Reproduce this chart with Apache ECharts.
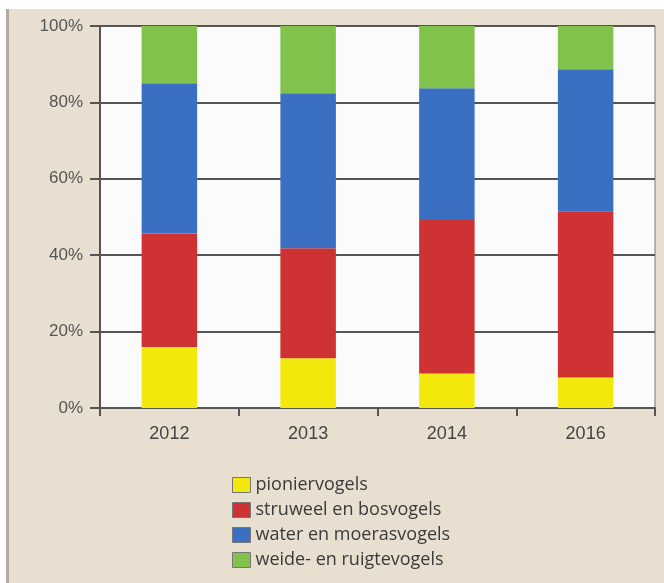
<!DOCTYPE html>
<html>
<head>
<meta charset="utf-8">
<script src="https://cdn.jsdelivr.net/npm/echarts@6/dist/echarts.min.js"></script>
<style>html,body{margin:0;padding:0;background:#fff;}#c{width:664px;height:583px;}</style>
</head>
<body>
<div id="c"></div>
<script>
var categories = ['2012', '2013', '2014', '2016'];
var pioniervogels = [16, 13, 9, 8];
var struweelBosvogels = [29.7, 28.8, 40.2, 43.4];
var waterMoerasvogels = [39.3, 40.6, 34.5, 37.3];
var weideRuigtevogels = [15, 17.6, 16.3, 11.3];
var yTicks = [0, 20, 40, 60, 80, 100];

var chart = echarts.init(document.getElementById('c'));
function mk(name, data, color) {
  return {
    name: name, type: 'bar', stack: 'total', data: data, barWidth: '40%',
    itemStyle: { color: color }
  };
}
chart.setOption({
  backgroundColor: '#e8dfd1',
  animation: false,
  graphic: [
    { type: 'rect', shape: { x: 0, y: 0, width: 664, height: 9 }, style: { fill: '#ffffff' }, silent: true },
    { type: 'rect', shape: { x: 0, y: 0, width: 6, height: 583 }, style: { fill: '#ffffff' }, silent: true },
    { type: 'rect', shape: { x: 6, y: 9, width: 3, height: 574 }, style: { fill: '#b3aba2' }, silent: true }
  ],
  grid: {
    left: 100, right: 9, top: 26, bottom: 175,
    show: true, backgroundColor: '#fbfbfb', borderColor: '#777', borderWidth: 1
  },
  legend: {
    orient: 'vertical', left: 227, top: 471,
    itemWidth: 18, itemHeight: 15, itemGap: 7,
    icon: 'rect',
    itemStyle: { borderColor: '#777', borderWidth: 1 },
    textStyle: { fontFamily: 'Open Sans', fontSize: 18, color: '#3a3a3a' },
    data: ['pioniervogels', 'struweel en bosvogels', 'water en moerasvogels', 'weide- en ruigtevogels']
  },
  xAxis: {
    type: 'category', data: categories,
    axisLine: { lineStyle: { color: '#555', width: 2 } },
    axisTick: { show: true, length: 8, lineStyle: { color: '#555', width: 2 } },
    axisLabel: { fontFamily: 'Liberation Sans', fontSize: 18, color: '#444', margin: 17 }
  },
  yAxis: {
    type: 'value', min: 0, max: 100, interval: 20,
    axisLine: { show: true, lineStyle: { color: '#555', width: 2 } },
    axisTick: { show: true, length: 10, lineStyle: { color: '#555', width: 2 } },
    splitLine: { lineStyle: { color: '#555', width: 2 } },
    axisLabel: {
      fontFamily: 'Liberation Sans', fontSize: 17, color: '#555', margin: 17,
      formatter: function (v) { return yTicks.indexOf(v) >= 0 ? v + '%' : ''; }
    }
  },
  series: [
    mk('pioniervogels', pioniervogels, '#f3e80c'),
    mk('struweel en bosvogels', struweelBosvogels, '#cf3232'),
    mk('water en moerasvogels', waterMoerasvogels, '#3b6fc2'),
    mk('weide- en ruigtevogels', weideRuigtevogels, '#80c24c')
  ]
});
</script>
</body>
</html>
